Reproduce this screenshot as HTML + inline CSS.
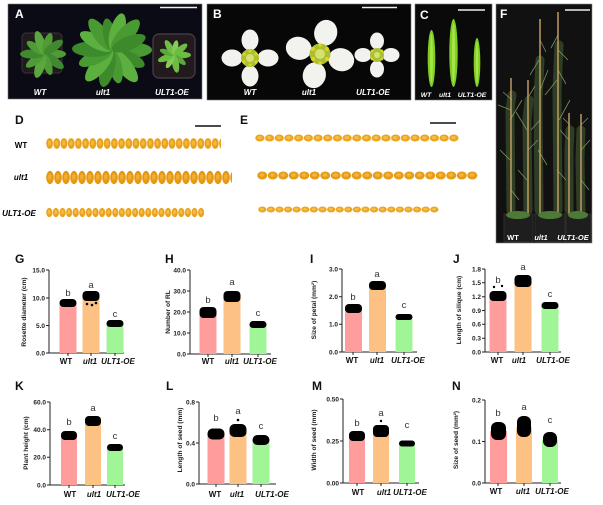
<!DOCTYPE html>
<html><head><meta charset="utf-8">
<style>
html,body{margin:0;padding:0;background:#fff;}
svg{display:block;}
.t{font-family:"Liberation Sans",Arial,sans-serif;}
.tk{font-family:"Liberation Sans",Arial,sans-serif;font-size:6.5px;font-weight:bold;fill:#222;text-anchor:end;}
.yl{font-family:"Liberation Sans",Arial,sans-serif;font-size:6.6px;font-weight:bold;fill:#222;text-anchor:middle;}
.xl{font-family:"Liberation Sans",Arial,sans-serif;font-size:8px;font-weight:bold;fill:#111;text-anchor:middle;}
.it{font-style:italic;}
.lt{font-family:"Liberation Sans",Arial,sans-serif;font-size:9.5px;fill:#333;text-anchor:middle;}
.pl{font-family:"Liberation Sans",Arial,sans-serif;font-size:12px;font-weight:bold;fill:#111;}
.wl{font-family:"Liberation Sans",Arial,sans-serif;font-size:8px;font-weight:bold;fill:#fff;text-anchor:middle;}
.ax{stroke:#222;stroke-width:1;fill:none;}
</style></head>
<body>
<svg width="603" height="505" viewBox="0 0 603 505" xmlns="http://www.w3.org/2000/svg">
<defs>
  <ellipse id="lf" cx="0.5" cy="0" rx="0.5" ry="0.19"/>
  <pattern id="dw" x="46" y="137" width="7.2" height="13" patternUnits="userSpaceOnUse">
    <ellipse cx="3.6" cy="6.5" rx="3.4" ry="5.4" fill="#e9a01a"/><ellipse cx="3.4" cy="6" rx="1.6" ry="2.6" fill="#f3b840"/></pattern>
  <pattern id="du" x="46" y="170" width="8" height="15" patternUnits="userSpaceOnUse">
    <ellipse cx="4" cy="7.5" rx="3.85" ry="6.6" fill="#e69a14"/><ellipse cx="3.8" cy="7" rx="1.8" ry="3" fill="#f0b038"/></pattern>
  <pattern id="do" x="46" y="207" width="6.6" height="11" patternUnits="userSpaceOnUse">
    <ellipse cx="3.3" cy="5.5" rx="3.1" ry="4.6" fill="#eaa21c"/><ellipse cx="3.1" cy="5" rx="1.4" ry="2.2" fill="#f4bc48"/></pattern>
  <pattern id="ew" x="255" y="134" width="9.7" height="8" patternUnits="userSpaceOnUse">
    <ellipse cx="4.85" cy="4" rx="4.6" ry="3.5" fill="#eca41e"/><ellipse cx="4.5" cy="3.6" rx="2.2" ry="1.6" fill="#f5be4a"/></pattern>
  <pattern id="eu" x="257" y="171" width="10.5" height="9" patternUnits="userSpaceOnUse">
    <ellipse cx="5.25" cy="4.5" rx="5" ry="4" fill="#e69c16"/><ellipse cx="5" cy="4" rx="2.4" ry="1.8" fill="#f2b440"/></pattern>
  <pattern id="eo" x="258" y="206" width="8.6" height="7" patternUnits="userSpaceOnUse">
    <ellipse cx="4.3" cy="3.5" rx="4.1" ry="3" fill="#eca41e"/><ellipse cx="4" cy="3.2" rx="2" ry="1.4" fill="#f5be4a"/></pattern>
</defs>
<rect width="603" height="505" fill="#fff"/>

<!-- Panel A -->
<rect x="8" y="4" width="194" height="95" fill="#0a0b14" stroke="#777" stroke-width="0.6"/>
<rect x="22" y="33" width="40" height="40" rx="4" fill="#1f1a1c" stroke="#3a3438" stroke-width="1"/>
<g fill="#4f9b35">
<use href="#lf" transform="translate(44,54) rotate(0) scale(22)"/>
<use href="#lf" transform="translate(44,54) rotate(36) scale(24)" fill="#3f8a2e"/>
<use href="#lf" transform="translate(44,54) rotate(72) scale(22)"/>
<use href="#lf" transform="translate(44,54) rotate(108) scale(25)" fill="#5aa83d"/>
<use href="#lf" transform="translate(44,54) rotate(144) scale(22)"/>
<use href="#lf" transform="translate(44,54) rotate(180) scale(24)" fill="#3f8a2e"/>
<use href="#lf" transform="translate(44,54) rotate(216) scale(21)"/>
<use href="#lf" transform="translate(44,54) rotate(252) scale(24)" fill="#5aa83d"/>
<use href="#lf" transform="translate(44,54) rotate(288) scale(22)"/>
<use href="#lf" transform="translate(44,54) rotate(324) scale(23)" fill="#3f8a2e"/>
</g>
<rect x="92" y="30" width="44" height="40" rx="4" fill="#1f1a1c"/>
<g fill="#4a9a33">
<use href="#lf" transform="translate(112,50) rotate(0) scale(40)"/>
<use href="#lf" transform="translate(112,50) rotate(26) scale(36)" fill="#3c8a2c"/>
<use href="#lf" transform="translate(112,50) rotate(52) scale(40)" fill="#5cb040"/>
<use href="#lf" transform="translate(112,50) rotate(78) scale(34)"/>
<use href="#lf" transform="translate(112,50) rotate(104) scale(38)" fill="#3c8a2c"/>
<use href="#lf" transform="translate(112,50) rotate(130) scale(40)" fill="#5cb040"/>
<use href="#lf" transform="translate(112,50) rotate(156) scale(36)"/>
<use href="#lf" transform="translate(112,50) rotate(182) scale(40)" fill="#3c8a2c"/>
<use href="#lf" transform="translate(112,50) rotate(208) scale(36)" fill="#5cb040"/>
<use href="#lf" transform="translate(112,50) rotate(234) scale(38)"/>
<use href="#lf" transform="translate(112,50) rotate(260) scale(32)" fill="#3c8a2c"/>
<use href="#lf" transform="translate(112,50) rotate(286) scale(38)" fill="#5cb040"/>
<use href="#lf" transform="translate(112,50) rotate(312) scale(40)"/>
<use href="#lf" transform="translate(112,50) rotate(338) scale(36)" fill="#3c8a2c"/>
</g>
<rect x="153" y="34" width="42" height="44" rx="6" fill="#221a1c" stroke="#4a4048" stroke-width="1.2"/>
<g fill="#6dbd45">
<use href="#lf" transform="translate(174,55) rotate(0) scale(17)"/>
<use href="#lf" transform="translate(174,55) rotate(40) scale(15)" fill="#5aa838"/>
<use href="#lf" transform="translate(174,55) rotate(80) scale(18)"/>
<use href="#lf" transform="translate(174,55) rotate(120) scale(15)" fill="#84cc55"/>
<use href="#lf" transform="translate(174,55) rotate(160) scale(17)"/>
<use href="#lf" transform="translate(174,55) rotate(200) scale(15)" fill="#5aa838"/>
<use href="#lf" transform="translate(174,55) rotate(240) scale(17)"/>
<use href="#lf" transform="translate(174,55) rotate(280) scale(15)" fill="#84cc55"/>
<use href="#lf" transform="translate(174,55) rotate(320) scale(17)"/>
</g>
<line x1="160" y1="7.5" x2="197" y2="7.5" stroke="#eee" stroke-width="1.5"/>
<text x="15" y="18" class="pl" style="fill:#fff">A</text>
<text x="40" y="95" class="wl it">WT</text>
<text x="103" y="95" class="wl it">ult1</text>
<text x="172" y="95" class="wl it">ULT1-OE</text>

<!-- Panel B -->
<rect x="207" y="4" width="204" height="96" fill="#070707" stroke="#777" stroke-width="0.6"/>
<g fill="#f2f2ee">
<ellipse cx="250" cy="40" rx="8.5" ry="10.5"/>
<ellipse cx="250" cy="76" rx="8.5" ry="10.5"/>
<ellipse cx="232" cy="58" rx="10.5" ry="8.5"/>
<ellipse cx="268" cy="58" rx="10.5" ry="8.5"/>
</g>
<circle cx="250" cy="58" r="9" fill="#a6c234"/><circle cx="250" cy="58" r="4" fill="#d8e070"/>
<g fill="#e6d020"><circle cx="244" cy="54" r="1.6"/><circle cx="256" cy="54" r="1.6"/><circle cx="244" cy="62" r="1.6"/><circle cx="256" cy="62" r="1.6"/><circle cx="250" cy="51" r="1.5"/><circle cx="250" cy="65" r="1.5"/></g>
<g fill="#f2f2ee" transform="rotate(15 320 54)">
<ellipse cx="320" cy="32" rx="11.5" ry="13"/>
<ellipse cx="320" cy="76" rx="11.5" ry="13"/>
<ellipse cx="298" cy="54" rx="13" ry="11.5"/>
<ellipse cx="342" cy="54" rx="13" ry="11.5"/>
</g>
<circle cx="320" cy="54" r="10.5" fill="#a6c234"/><circle cx="320" cy="54" r="5" fill="#d8e070"/>
<g fill="#e6d020"><circle cx="313" cy="49" r="2"/><circle cx="327" cy="49" r="2"/><circle cx="313" cy="59" r="2"/><circle cx="327" cy="59" r="2"/><circle cx="320" cy="45" r="1.8"/><circle cx="320" cy="63" r="1.8"/></g>
<g fill="#f2f2ee">
<ellipse cx="377" cy="41" rx="7" ry="8.5"/>
<ellipse cx="377" cy="69" rx="7" ry="8.5"/>
<ellipse cx="363" cy="55" rx="8.5" ry="7"/>
<ellipse cx="391" cy="55" rx="8.5" ry="7"/>
</g>
<circle cx="377" cy="55" r="7" fill="#a6c234"/><circle cx="377" cy="55" r="3" fill="#d8e070"/>
<g fill="#e6d020"><circle cx="372" cy="51" r="1.4"/><circle cx="382" cy="51" r="1.4"/><circle cx="372" cy="59" r="1.4"/><circle cx="382" cy="59" r="1.4"/></g>
<line x1="362" y1="7.5" x2="397" y2="7.5" stroke="#eee" stroke-width="1.5"/>
<text x="213" y="18" class="pl" style="fill:#fff">B</text>
<text x="250" y="95" class="wl it">WT</text>
<text x="309" y="95" class="wl it">ult1</text>
<text x="373" y="95" class="wl it">ULT1-OE</text>

<!-- Panel C -->
<rect x="415" y="4" width="77" height="96" fill="#0a0a0a" stroke="#777" stroke-width="0.6"/>
<ellipse cx="431.5" cy="58.5" rx="3.8" ry="28.5" fill="#7fcf22"/>
<ellipse cx="453.5" cy="53" rx="4.2" ry="34" fill="#7fcf22"/>
<ellipse cx="477" cy="62.5" rx="3.3" ry="24.5" fill="#7fcf22"/>
<ellipse cx="431.5" cy="58.5" rx="1.4" ry="25" fill="#a6e448"/>
<ellipse cx="453.5" cy="53" rx="1.6" ry="30" fill="#a6e448"/>
<ellipse cx="477" cy="62.5" rx="1.2" ry="21" fill="#a6e448"/>
<line x1="458" y1="10" x2="485" y2="10" stroke="#eee" stroke-width="1.5"/>
<text x="420" y="19" class="pl" style="fill:#fff">C</text>
<text x="426" y="97" class="wl it" style="font-size:6.8px">WT</text>
<text x="445" y="97" class="wl it" style="font-size:6.8px">ult1</text>
<text x="472" y="97" class="wl it" style="font-size:6.8px">ULT1-OE</text>

<!-- Panel F -->
<rect x="496" y="4" width="96" height="239" fill="#111" stroke="#888" stroke-width="0.6"/>
<g stroke="#55743e" stroke-width="9" opacity="0.45" fill="none" stroke-linecap="round">
<path d="M511,210 L510,110 L512,95"/>
<path d="M528,210 L527,120 L529,100"/>
<path d="M539,210 L538,100 L540,60"/>
<path d="M558,210 L557,90 L559,45"/>
<path d="M569,210 L569,150 L570,130"/>
<path d="M581,210 L580,160 L581,130"/>
</g>
<g stroke="#7a9a5e" stroke-width="0.8" fill="none" opacity="0.95">
<path d="M511,110 L498,105 M510,120 L522,100 M527,130 L516,112 M528,150 L538,140 M539,60 L530,75 M540,90 L548,70 M558,50 L568,60 M557,80 L545,95 M559,120 L570,100 M569,140 L560,130 M581,150 L590,140 M510,160 L500,150 M538,150 L547,165 M557,170 L566,180 M527,180 L518,170 M512,100 L503,92 M529,96 L535,86 M540,40 L546,52 M558,35 L551,48 M558,70 L566,84 M570,125 L563,118 M581,125 L588,118 M581,180 L589,190 M511,190 L519,200 M540,120 L531,130"/>
</g>
<g stroke="#c9a466" stroke-width="1.4">
<line x1="511" y1="226" x2="511" y2="78"/>
<line x1="528" y1="226" x2="528" y2="80"/>
<line x1="540" y1="226" x2="540" y2="19"/>
<line x1="558" y1="226" x2="558" y2="12"/>
<line x1="569" y1="226" x2="569" y2="113"/>
<line x1="581" y1="226" x2="581" y2="114"/>
</g>
<rect x="504" y="214" width="29" height="28" fill="#1e1e1e" stroke="#333" stroke-width="0.8"/>
<rect x="535" y="214" width="30" height="28" fill="#1e1e1e" stroke="#333" stroke-width="0.8"/>
<rect x="566" y="214" width="25" height="28" fill="#1e1e1e" stroke="#333" stroke-width="0.8"/>
<ellipse cx="518" cy="215" rx="12" ry="4" fill="#4e7a38"/>
<ellipse cx="550" cy="215" rx="12" ry="4" fill="#4e7a38"/>
<ellipse cx="578" cy="215" rx="10" ry="4" fill="#4e7a38"/>
<line x1="565" y1="10" x2="590" y2="10" stroke="#eee" stroke-width="1.5"/>
<text x="500" y="18" class="pl" style="fill:#fff">F</text>
<text x="513" y="240" class="wl" style="font-size:7.5px">WT</text>
<text x="541" y="240" class="wl it" style="font-size:7.5px">ult1</text>
<text x="573" y="240" class="wl it" style="font-size:7.5px">ULT1-OE</text>

<!-- Panel D -->
<text x="15" y="124" class="pl">D</text>
<line x1="195" y1="126" x2="221" y2="126" stroke="#111" stroke-width="1.5"/>
<text x="21" y="148" class="t" style="font-size:8px;font-weight:bold;text-anchor:middle">WT</text>
<text x="21" y="180" class="t it" style="font-size:8px;font-weight:bold;text-anchor:middle">ult1</text>
<text x="19" y="216" class="t it" style="font-size:8px;font-weight:bold;text-anchor:middle">ULT1-OE</text>
<rect x="46" y="137" width="175" height="13" fill="url(#dw)"/>
<rect x="46" y="170" width="186" height="15" fill="url(#du)"/>
<rect x="46" y="207" width="158" height="11" fill="url(#do)"/>

<!-- Panel E -->
<text x="240" y="124" class="pl">E</text>
<line x1="430" y1="123" x2="456" y2="123" stroke="#111" stroke-width="1.5"/>
<rect x="255" y="134" width="204" height="8" fill="url(#ew)"/>
<rect x="257" y="171" width="221" height="9" fill="url(#eu)"/>
<rect x="258" y="206" width="181" height="7" fill="url(#eo)"/>

<!-- G -->
<text x="15" y="263" class="pl">G</text>
<path class="ax" d="M49,270 V353 H124"/>
<path class="ax" d="M46,270H49M46,298H49M46,325.5H49M46,353H49M68,353V356M91,353V356M115,353V356"/>
<text class="tk" x="45" y="272.3">15.0</text><text class="tk" x="45" y="300.3">10.0</text><text class="tk" x="45" y="327.8">5.0</text><text class="tk" x="45" y="355.3">0.0</text>
<text class="yl" transform="translate(26,312) rotate(-90)">Rosette diameter (cm)</text>
<rect x="59.5" y="303" width="17" height="50" fill="#ff9d9d"/>
<rect x="82.5" y="297" width="17" height="56" fill="#fdc183"/>
<rect x="106.5" y="324" width="17" height="29" fill="#a0f597"/>
<rect x="59.5" y="299" width="17" height="8" rx="4" fill="#000"/>
<rect x="82.5" y="291" width="17" height="10" rx="4" fill="#000"/>
<circle cx="87" cy="304" r="1.3"/><circle cx="92" cy="305" r="1.3"/><circle cx="96" cy="303" r="1.3"/>
<rect x="106.5" y="320" width="17" height="7" rx="3.5" fill="#000"/>
<text class="lt" x="68" y="296">b</text><text class="lt" x="91" y="288">a</text><text class="lt" x="115" y="317">c</text>
<text class="xl" x="66" y="364">WT</text><text class="xl it" x="90" y="364">ult1</text><text class="xl it" x="118" y="364">ULT1-OE</text>

<!-- H -->
<text x="165" y="263" class="pl">H</text>
<path class="ax" d="M190,270 V354 H271"/>
<path class="ax" d="M187,270H190M187,291H190M187,312H190M187,333H190M187,354H190M208,354V357M232,354V357M258,354V357"/>
<text class="tk" x="186" y="272.3">40.0</text><text class="tk" x="186" y="293.3">30.0</text><text class="tk" x="186" y="314.3">20.0</text><text class="tk" x="186" y="335.3">10.0</text><text class="tk" x="186" y="356.3">0.0</text>
<text class="yl" transform="translate(170,312) rotate(-90)">Number of RL</text>
<rect x="199.5" y="313" width="17" height="41" fill="#ff9d9d"/>
<rect x="223.5" y="296" width="17" height="58" fill="#fdc183"/>
<rect x="249.5" y="325" width="17" height="29" fill="#a0f597"/>
<rect x="199.5" y="307" width="17" height="11" rx="4" fill="#000"/>
<rect x="223.5" y="291" width="17" height="11" rx="4" fill="#000"/>
<rect x="249.5" y="321" width="17" height="7" rx="3.5" fill="#000"/>
<text class="lt" x="208" y="303">b</text><text class="lt" x="232" y="285">a</text><text class="lt" x="258" y="316">c</text>
<text class="xl" x="208" y="364">WT</text><text class="xl it" x="232" y="364">ult1</text><text class="xl it" x="260" y="364">ULT1-OE</text>

<!-- I -->
<text x="310" y="263" class="pl">I</text>
<path class="ax" d="M342,269 V352 H417"/>
<path class="ax" d="M339,269H342M339,296.7H342M339,324.3H342M339,352H342M353,352V355M377,352V355M404,352V355"/>
<text class="tk" x="338" y="271.3">3.0</text><text class="tk" x="338" y="299">2.0</text><text class="tk" x="338" y="326.6">1.0</text><text class="tk" x="338" y="354.3">0.0</text>
<text class="yl" transform="translate(316,310) rotate(-90)">Size of  petal (mm²)</text>
<rect x="345" y="309" width="17" height="43" fill="#ff9d9d"/>
<rect x="369" y="286" width="17" height="66" fill="#fdc183"/>
<rect x="395.5" y="317.5" width="17" height="34.5" fill="#a0f597"/>
<rect x="345" y="304" width="17" height="9" rx="4" fill="#000"/>
<rect x="369" y="281" width="17" height="9" rx="4" fill="#000"/>
<rect x="395.5" y="314" width="17" height="6" rx="3" fill="#000"/>
<text class="lt" x="353" y="300">b</text><text class="lt" x="377" y="277">a</text><text class="lt" x="404" y="308">c</text>
<text class="xl" x="352" y="363">WT</text><text class="xl it" x="377" y="363">ult1</text><text class="xl it" x="408" y="363">ULT1-OE</text>

<!-- J -->
<text x="453" y="263" class="pl">J</text>
<path class="ax" d="M485,269 V352 H561"/>
<path class="ax" d="M482,269H485M482,282.8H485M482,296.7H485M482,310.5H485M482,324.3H485M482,338.2H485M482,352H485M498,352V355M523,352V355M550,352V355"/>
<text class="tk" x="481" y="271.3">1.8</text><text class="tk" x="481" y="285.1">1.5</text><text class="tk" x="481" y="299">1.2</text><text class="tk" x="481" y="312.8">0.9</text><text class="tk" x="481" y="326.6">0.6</text><text class="tk" x="481" y="340.5">0.3</text><text class="tk" x="481" y="354.3">0.0</text>
<text class="yl" transform="translate(461,310) rotate(-90)">Length of  silique (cm)</text>
<rect x="489.5" y="296" width="17" height="56" fill="#ff9d9d"/>
<rect x="514.5" y="280.5" width="17" height="71.5" fill="#fdc183"/>
<rect x="541.5" y="306" width="17" height="46" fill="#a0f597"/>
<rect x="489.5" y="291" width="17" height="10" rx="4" fill="#000"/>
<circle cx="494" cy="287" r="1.2"/><circle cx="502" cy="286" r="1.2"/>
<rect x="514.5" y="275" width="17" height="12" rx="4" fill="#000"/>
<rect x="541.5" y="302" width="17" height="7" rx="3.5" fill="#000"/>
<text class="lt" x="498" y="283">b</text><text class="lt" x="523" y="270">a</text><text class="lt" x="550" y="297">c</text>
<text class="xl" x="497" y="363">WT</text><text class="xl it" x="519" y="363">ult1</text><text class="xl it" x="553" y="363">ULT1-OE</text>

<!-- K -->
<text x="15" y="390" class="pl">K</text>
<path class="ax" d="M50,402 V485 H125"/>
<path class="ax" d="M47,402H50M47,429.7H50M47,457.3H50M47,485H50M69,485V488M93,485V488M115,485V488"/>
<text class="tk" x="46" y="404.3">60.0</text><text class="tk" x="46" y="432">40.0</text><text class="tk" x="46" y="459.6">20.0</text><text class="tk" x="46" y="487.3">0.0</text>
<text class="yl" transform="translate(28,443) rotate(-90)">Plant height (cm)</text>
<rect x="61" y="435" width="16" height="50" fill="#ff9d9d"/>
<rect x="85" y="421" width="16" height="64" fill="#fdc183"/>
<rect x="107" y="447.5" width="16" height="37.5" fill="#a0f597"/>
<rect x="61" y="431" width="16" height="9" rx="4" fill="#000"/>
<rect x="85" y="416" width="16" height="10" rx="4" fill="#000"/>
<rect x="107" y="444" width="16" height="7" rx="3.5" fill="#000"/>
<text class="lt" x="69" y="425">b</text><text class="lt" x="93" y="411">a</text><text class="lt" x="115" y="439">c</text>
<text class="xl" x="70" y="497">WT</text><text class="xl it" x="94" y="497">ult1</text><text class="xl it" x="123" y="497">ULT1-OE</text>

<!-- L -->
<text x="166" y="390" class="pl">L</text>
<path class="ax" d="M199,402 V484 H276"/>
<path class="ax" d="M196,402H199M196,443H199M196,484H199M216,484V487M238,484V487M261,484V487"/>
<text class="tk" x="195" y="404.3">0.8</text><text class="tk" x="195" y="445.3">0.4</text><text class="tk" x="195" y="486.3">0.0</text>
<text class="yl" transform="translate(182,440) rotate(-90)">Length of  seed (mm)</text>
<rect x="207.5" y="434" width="17" height="50" fill="#ff9d9d"/>
<rect x="229.5" y="431" width="17" height="53" fill="#fdc183"/>
<rect x="252.5" y="439" width="17" height="45" fill="#a0f597"/>
<rect x="207.5" y="428.5" width="17" height="11" rx="5" fill="#000"/>
<rect x="229.5" y="424" width="17" height="13" rx="5" fill="#000"/>
<circle cx="238" cy="420" r="1.3"/>
<rect x="252.5" y="435" width="17" height="10" rx="5" fill="#000"/>
<text class="lt" x="216" y="421">b</text><text class="lt" x="238" y="414">a</text><text class="lt" x="261" y="429">c</text>
<text class="xl" x="215" y="497">WT</text><text class="xl it" x="237" y="497">ult1</text><text class="xl it" x="272" y="497">ULT1-OE</text>

<!-- M -->
<text x="312" y="390" class="pl">M</text>
<path class="ax" d="M343,399 V483 H419"/>
<path class="ax" d="M340,399H343M340,441H343M340,483H343M357,483V486M381,483V486M407,483V486"/>
<text class="tk" x="339" y="401.3">0.50</text><text class="tk" x="339" y="443.3">0.25</text><text class="tk" x="339" y="485.3">0.00</text>
<text class="yl" transform="translate(316,440) rotate(-90)">Width of  seed (mm)</text>
<rect x="349" y="436" width="16" height="47" fill="#ff9d9d"/>
<rect x="373" y="431" width="16" height="52" fill="#fdc183"/>
<rect x="399" y="443.5" width="16" height="39.5" fill="#a0f597"/>
<rect x="349" y="431" width="16" height="10" rx="4" fill="#000"/>
<rect x="373" y="425" width="16" height="12" rx="4" fill="#000"/>
<circle cx="381" cy="421" r="1.2"/>
<rect x="399" y="440.5" width="16" height="6" rx="3" fill="#000"/>
<text class="lt" x="357" y="426">b</text><text class="lt" x="381" y="416">a</text><text class="lt" x="407" y="428">c</text>
<text class="xl" x="358" y="495">WT</text><text class="xl it" x="384" y="495">ult1</text><text class="xl it" x="410" y="495">ULT1-OE</text>

<!-- N -->
<text x="452" y="390" class="pl">N</text>
<path class="ax" d="M485,400 V483 H561"/>
<path class="ax" d="M482,400H485M482,441.5H485M482,483H485M498,483V486M524,483V486M550,483V486"/>
<text class="tk" x="481" y="402.3">0.2</text><text class="tk" x="481" y="443.8">0.1</text><text class="tk" x="481" y="485.3">0.0</text>
<text class="yl" transform="translate(458,440) rotate(-90)">Size of  seed (mm²)</text>
<rect x="490" y="431" width="17" height="52" fill="#ff9d9d"/>
<rect x="516" y="427" width="16" height="56" fill="#fdc183"/>
<rect x="542" y="439.5" width="16" height="43.5" fill="#a0f597"/>
<rect x="491" y="422" width="15" height="18" rx="6" fill="#000"/>
<rect x="517" y="416" width="14" height="21" rx="6" fill="#000"/>
<rect x="543" y="432" width="14" height="15" rx="6" fill="#000"/>
<text class="lt" x="498" y="416">b</text><text class="lt" x="524" y="410">a</text><text class="lt" x="550" y="423">c</text>
<text class="xl" x="496" y="494">WT</text><text class="xl it" x="523" y="494">ult1</text><text class="xl it" x="552" y="494">ULT1-OE</text>
</svg>
</body></html>
